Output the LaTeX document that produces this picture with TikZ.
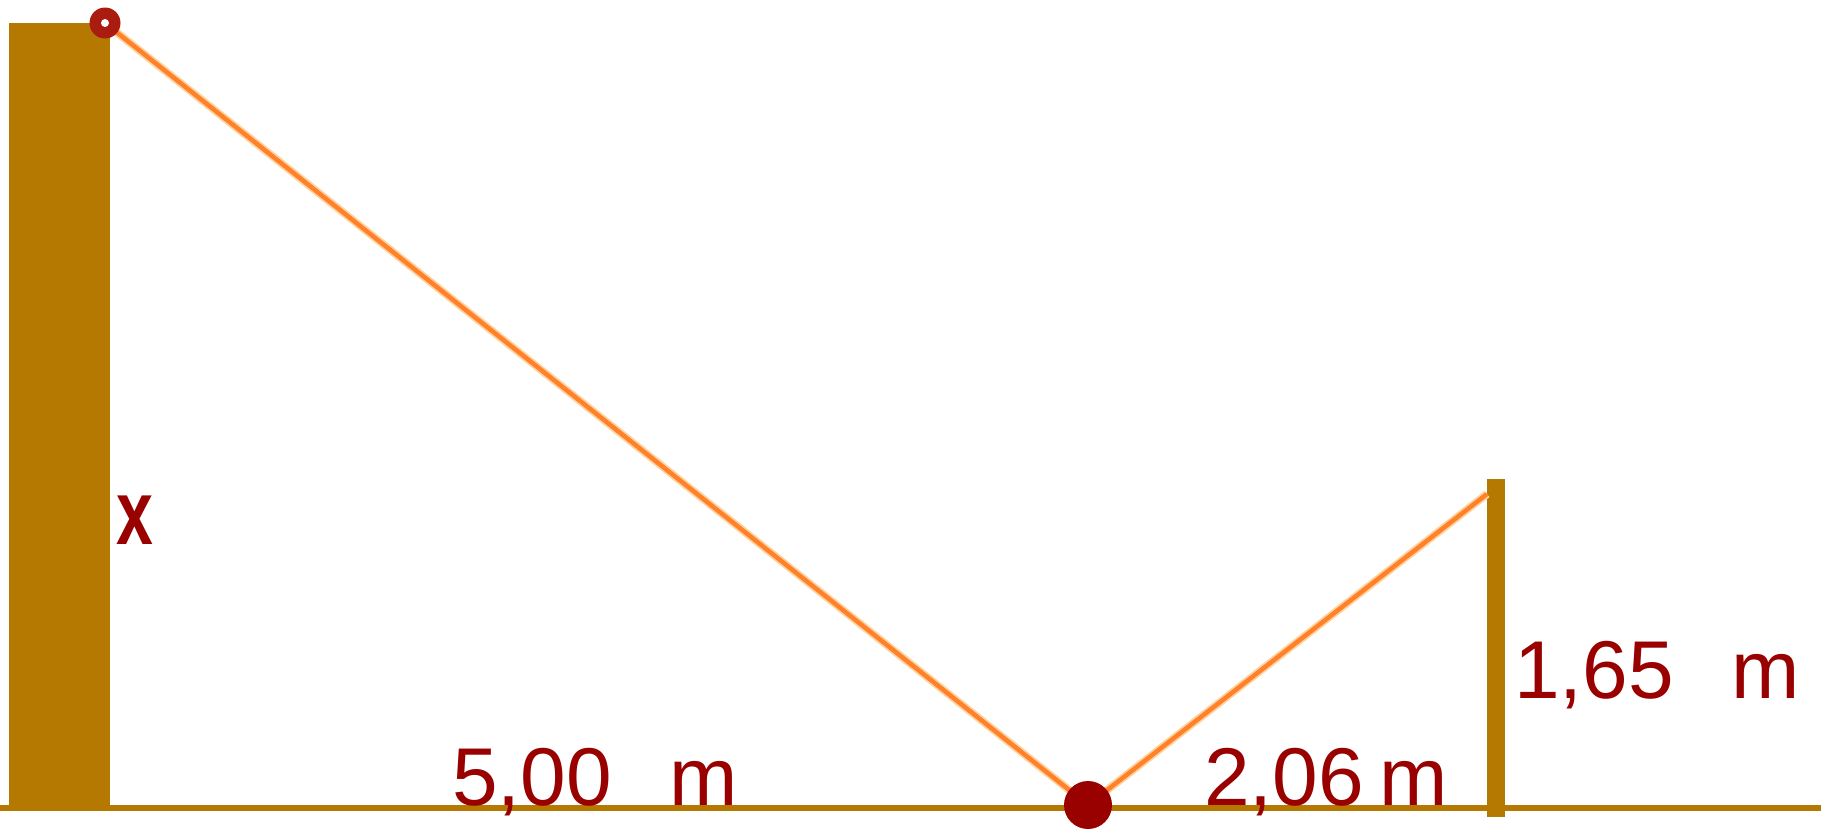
\documentclass[tikz,border=0pt]{standalone}
\usepackage{fontspec}
\setmainfont{Liberation Sans}
\definecolor{wood}{HTML}{B57800}
\definecolor{ink}{HTML}{990000}
\definecolor{ropec}{HTML}{FF8129}
\definecolor{ropehalo}{HTML}{FFD3A0}
\definecolor{markerc}{HTML}{AA1C10}
\begin{document}
\begin{tikzpicture}[x=1pt,y=-1pt,
  lbl/.style={text=ink,font=\fontsize{82}{82}\selectfont,inner sep=0pt,anchor=base west},
  ropeline/.style={draw=ropec,line width=4.5pt},
  halo/.style={draw=ropehalo,line width=8pt},
  woodline/.style={draw=wood}]
\useasboundingbox[fill=white] (0,0) rectangle (1829,830);
% wall
\node[fill=wood,minimum width=101pt,minimum height=785pt,inner sep=0pt,anchor=north west] (wall) at (9,23) {};
% ground
\coordinate (g0) at (0,808);
\coordinate (g1) at (1821,808);
\draw[woodline,line width=6pt] (g0) -- (g1);
% pole
\coordinate (pb) at (1496,817);
\coordinate (pt) at (1496,479);
\draw[woodline,line width=18pt] (pb) -- (pt);
% rope
\coordinate (A) at (105,23);
\coordinate (B) at (1088,805);
\coordinate (C) at (1487,494);
\draw[halo] (A) -- (B) -- (C);
\draw[ropeline] (A) -- (B) -- (C);
% ball and marker
\node[circle,fill=ink,minimum size=48pt,inner sep=0pt] (ball) at (B) {};
\node[circle,fill=markerc,minimum size=31pt,inner sep=0pt] (mk) at (A) {};
\node[circle,fill=white,minimum size=8pt,inner sep=0pt] (mkc) at (A) {};
% labels
\node[lbl] (l500) at (452,805) {5,00 \hspace{35pt}m};
\node[lbl] (l206) at (1204,805) {2,06\hspace{16pt}m};
\node[lbl] (l165) at (1514,698) {1,65 \hspace{35pt}m};
\node[lbl,font=\bfseries\fontsize{92}{92}\selectfont,xscale=0.72] (xl) at (116,544) {x};
\end{tikzpicture}
\end{document}
